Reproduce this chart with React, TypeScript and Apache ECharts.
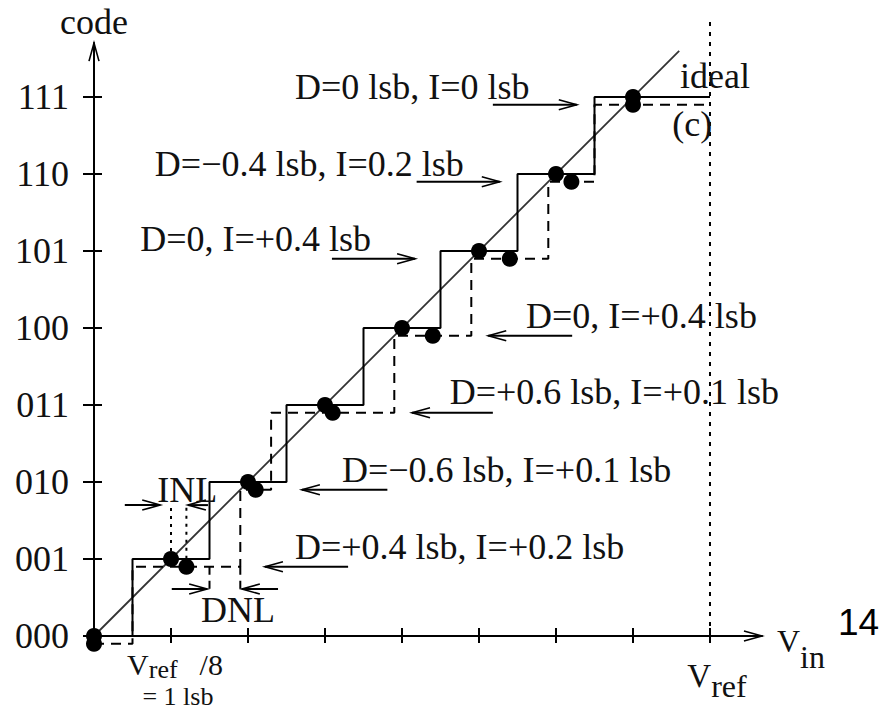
import React, { useEffect, useRef } from 'react';
import * as echarts from 'echarts';

// ---------- data ----------
const codeLabels = ['000', '001', '010', '011', '100', '101', '110', '111'];
const codeLevels = [0, 1, 2, 3, 4, 5, 6, 7];
const xTickValues = [1, 2, 3, 4, 5, 6, 7, 8];
const xLabelValues = [1, 8];
const idealTransitions = [0.5, 1.5, 2.5, 3.5, 4.5, 5.5, 6.5];
const actualTransitions = [0.5, 1.9, 2.3, 3.9, 4.9, 5.9, 6.5];
const actualMidpoints = [0, 1.2, 2.1, 3.1, 4.4, 5.4, 6.2, 7.0];
const actualLevelOffset = -0.1;
const vrefValue = 8;
const idealLineEnd = 7.6;

const noteTexts = [
  'D=0 lsb, I=0 lsb',
  'D=\u22120.4 lsb, I=0.2 lsb',
  'D=0, I=+0.4 lsb',
  'D=0, I=+0.4 lsb',
  'D=+0.6 lsb, I=+0.1 lsb',
  'D=\u22120.6 lsb, I=+0.1 lsb',
  'D=+0.4 lsb, I=+0.2 lsb',
];
const noteX = [2.61, 0.79, 0.6, 5.61, 4.62, 3.22, 2.61];
const noteY = [7.13, 6.13, 5.15, 4.15, 3.17, 2.16, 1.16];
const arrowFromX = [5.18, 4.19, 3.09, 6.21, 5.18, 3.81, 3.3];
const arrowToX = [6.27, 5.27, 4.17, 5.12, 4.13, 2.7, 2.22];
const arrowLevel = [6.9, 5.9, 4.9, 3.9, 2.9, 1.9, 0.9];

const sideTexts = ['ideal', '(c)', 'INL', 'DNL', '= 1 lsb'];
const sideX = [7.61, 7.51, 1.21, 1.87, 1.09];
const sideY = [7.27, 6.65, 1.9, 0.34, -0.786];
const sideAlign = ['left', 'left', 'center', 'center', 'center'];
const sideFontSize = [36, 36, 36, 36, 26];

// INL / DNL construction
const inlLineX = [1.0, 1.2];
const inlLineBottom = [1.0, 0.9];
const inlTop = 1.7;
const inlArrows = [[0.4, 0.86], [1.48, 1.22]];
const dnlLineX = [1.5, 1.9];
const dnlLineTop = 0.9;
const dnlBottom = 0.57;
const dnlArrowY = 0.61;
const dnlArrows = [[1.01, 1.47], [2.39, 1.92]];

// ---------- layout ----------
const UNIT = 77;
const ORIGIN_X = 94;
const ORIGIN_Y = 636;
const X_MAX = 8.675;
const Y_MAX = 7.7;
const SERIF = '"Liberation Serif", "Times New Roman", serif';
const INK = '#111';

function staircase(trans: number[], offset: number, end: number) {
  const pts: number[][] = [[0, offset]];
  trans.forEach((t, i) => {
    pts.push([t, i + offset]);
    pts.push([t, i + 1 + offset]);
  });
  pts.push([end, trans.length + offset]);
  return pts;
}

function segSeries(name: string, pts: number[][], type: any, width: number, color = '#000') {
  return {
    name,
    type: 'line',
    data: pts,
    symbol: 'none',
    clip: false,
    silent: true,
    lineStyle: { color, width, type },
    z: 3,
  };
}

export default function App() {
  const ref = useRef<HTMLDivElement>(null);
  useEffect(() => {
    if (!ref.current) return;
    const chart = echarts.init(ref.current, undefined, { renderer: 'svg' });

    const arrowData: number[][] = [];
    arrowFromX.forEach((fx, i) => arrowData.push([fx, arrowLevel[i], arrowToX[i], arrowLevel[i]]));
    inlArrows.forEach((a) => arrowData.push([a[0], inlTop, a[1], inlTop]));
    dnlArrows.forEach((a) => arrowData.push([a[0], dnlArrowY, a[1], dnlArrowY]));
    // axis arrow heads
    arrowData.push([0, Y_MAX - 0.3, 0, Y_MAX]);
    arrowData.push([X_MAX - 0.3, 0, X_MAX, 0]);

    const series: any[] = [
      segSeries('ideal line', [[0, 0], [idealLineEnd, idealLineEnd]], 'solid', 1.8, '#333'),
      segSeries('ideal steps', staircase(idealTransitions, 0, vrefValue), 'solid', 2),
      segSeries('actual steps', staircase(actualTransitions, actualLevelOffset, vrefValue), [10, 7], 2),
      segSeries('vref', [[vrefValue, 0], [vrefValue, vrefValue]], [4, 6], 2),
      ...inlLineX.map((x, i) => segSeries('inl' + i, [[x, inlLineBottom[i]], [x, inlTop]], [3, 5], 2)),
      ...dnlLineX.map((x, i) => segSeries('dnl' + i, [[x, dnlLineTop], [x, dnlBottom]], [8, 6], 2)),
      {
        name: 'ideal dots',
        type: 'scatter',
        data: codeLevels.map((k) => [k, k]),
        symbol: 'circle',
        symbolSize: 16,
        itemStyle: { color: '#000', opacity: 1 },
        clip: false,
        z: 5,
      },
      {
        name: 'actual dots',
        type: 'scatter',
        data: actualMidpoints.map((m, k) => [m, k + actualLevelOffset]),
        symbol: 'circle',
        symbolSize: 16,
        itemStyle: { color: '#000', opacity: 1 },
        clip: false,
        z: 5,
      },
      {
        name: 'arrows',
        type: 'custom',
        clip: false,
        silent: true,
        data: arrowData,
        z: 4,
        renderItem: (params: any, api: any) => {
          const p1 = api.coord([api.value(0), api.value(1)]);
          const p2 = api.coord([api.value(2), api.value(3)]);
          const dx = p2[0] - p1[0];
          const dy = p2[1] - p1[1];
          const len = Math.hypot(dx, dy) || 1;
          const ux = dx / len;
          const uy = dy / len;
          const hl = 18;
          const hw = 5;
          const bx = p2[0] - ux * hl;
          const by = p2[1] - uy * hl;
          const nx = -uy;
          const ny = ux;
          return {
            type: 'group',
            children: [
              { type: 'line', shape: { x1: p1[0], y1: p1[1], x2: p2[0], y2: p2[1] }, style: { stroke: '#000', lineWidth: 2 } },
              {
                type: 'polyline',
                shape: { points: [[bx + nx * hw, by + ny * hw], [p2[0], p2[1]], [bx - nx * hw, by - ny * hw]] },
                style: { stroke: '#000', fill: null, lineWidth: 1.6 },
              },
            ],
          };
        },
      },
      {
        name: 'notes',
        type: 'custom',
        clip: false,
        silent: true,
        data: noteX.map((x, i) => [x, noteY[i]]),
        z: 6,
        renderItem: (params: any, api: any) => {
          const p = api.coord([api.value(0), api.value(1)]);
          return {
            type: 'text',
            x: p[0],
            y: p[1],
            style: { text: noteTexts[params.dataIndex], fontFamily: SERIF, fontSize: 36, fill: INK, align: 'left', verticalAlign: 'middle' },
          };
        },
      },
      {
        name: 'side labels',
        type: 'custom',
        clip: false,
        silent: true,
        data: sideX.map((x, i) => [x, sideY[i]]),
        z: 6,
        renderItem: (params: any, api: any) => {
          const p = api.coord([api.value(0), api.value(1)]);
          const i = params.dataIndex;
          return {
            type: 'text',
            x: p[0],
            y: p[1],
            style: { text: sideTexts[i], fontFamily: SERIF, fontSize: sideFontSize[i], fill: INK, align: sideAlign[i], verticalAlign: 'middle' },
          };
        },
      },
    ];

    const tickStyle = { color: '#000', width: 2 };
    const option: any = {
      animation: false,
      backgroundColor: '#fff',
      grid: {
        left: ORIGIN_X,
        top: ORIGIN_Y - Y_MAX * UNIT,
        width: X_MAX * UNIT,
        height: Y_MAX * UNIT,
        containLabel: false,
        outerBoundsMode: 'none',
      },
      xAxis: [
        {
          type: 'value',
          min: 0,
          max: X_MAX,
          interval: 1,
          position: 'bottom',
          axisLine: { show: true, onZero: true, lineStyle: { color: '#000', width: 2 } },
          axisTick: { show: true, inside: false, length: 7, customValues: xTickValues, lineStyle: tickStyle },
          axisLabel: {
            show: true,
            customValues: xLabelValues,
            margin: 13,
            color: INK,
            fontFamily: SERIF,
            formatter: (v: number) => (v === xLabelValues[0] ? '{v|V}{s|ref}{n|/8}' : '{v2|V}{s2|ref}'),
            rich: {
              v: { fontFamily: SERIF, fontSize: 30, lineHeight: 30, verticalAlign: 'top', padding: [0, 0, 0, 8], color: INK },
              s: { fontFamily: SERIF, fontSize: 26, lineHeight: 26, verticalAlign: 'top', padding: [7.2, 0, 0, 0], color: INK },
              n: { fontFamily: SERIF, fontSize: 30, lineHeight: 30, verticalAlign: 'top', padding: [0, 0, 0, 22], color: INK },
              v2: { fontFamily: SERIF, fontSize: 33, lineHeight: 33, verticalAlign: 'top', padding: [10.5, 0, 0, 14], color: INK },
              s2: { fontFamily: SERIF, fontSize: 32, lineHeight: 32, verticalAlign: 'top', padding: [21.2, 0, 0, 0], color: INK },
            },
          },
          splitLine: { show: false },
          name: '{v|V}{s|in}',
          nameLocation: 'end',
          nameGap: 15,
          nameTextStyle: {
            padding: [9.4, 0, 0, 0],
            rich: {
              v: { fontFamily: SERIF, fontSize: 32, lineHeight: 32, verticalAlign: 'top', color: INK },
              s: { fontFamily: SERIF, fontSize: 32, lineHeight: 32, verticalAlign: 'top', padding: [16, 0, 0, 0], color: INK },
            },
          },
        },
        {
          type: 'value',
          min: 0,
          max: X_MAX,
          interval: 1,
          position: 'bottom',
          axisLine: { show: false },
          axisTick: { show: true, inside: true, length: 8, customValues: xTickValues, lineStyle: tickStyle },
          axisLabel: { show: false },
          splitLine: { show: false },
        },
      ],
      yAxis: [
        {
          type: 'value',
          min: 0,
          max: Y_MAX,
          interval: 1,
          position: 'left',
          axisLine: { show: true, onZero: true, lineStyle: { color: '#000', width: 2 } },
          axisTick: { show: true, inside: false, length: 11, customValues: codeLevels, lineStyle: tickStyle },
          axisLabel: {
            show: true,
            customValues: codeLevels,
            margin: 25,
            fontFamily: SERIF,
            fontSize: 36,
            color: INK,
            padding: [7, 0, 0, 0],
            formatter: (v: number) => codeLabels[Math.round(v)] ?? '',
          },
          splitLine: { show: false },
          name: 'code',
          nameLocation: 'end',
          nameGap: 3,
          nameTextStyle: { fontFamily: SERIF, fontSize: 36, color: INK },
        },
        {
          type: 'value',
          min: 0,
          max: Y_MAX,
          interval: 1,
          position: 'left',
          axisLine: { show: false },
          axisTick: { show: true, inside: true, length: 8, customValues: codeLevels, lineStyle: tickStyle },
          axisLabel: { show: false },
          splitLine: { show: false },
        },
      ],
      graphic: [
        {
          type: 'text',
          x: 838,
          y: 622,
          style: {
            text: '14',
            fontFamily: '"Liberation Sans", Arial, sans-serif',
            fontSize: 37,
            fill: '#000',
            align: 'left',
            verticalAlign: 'middle',
          },
        },
      ],
      series,
    };

    chart.setOption(option);
    return () => chart.dispose();
  }, []);

  return (
    <div
      ref={ref}
      style={{ position: 'fixed', left: 0, top: 0, width: 884, height: 711, background: '#fff' }}
    />
  );
}
